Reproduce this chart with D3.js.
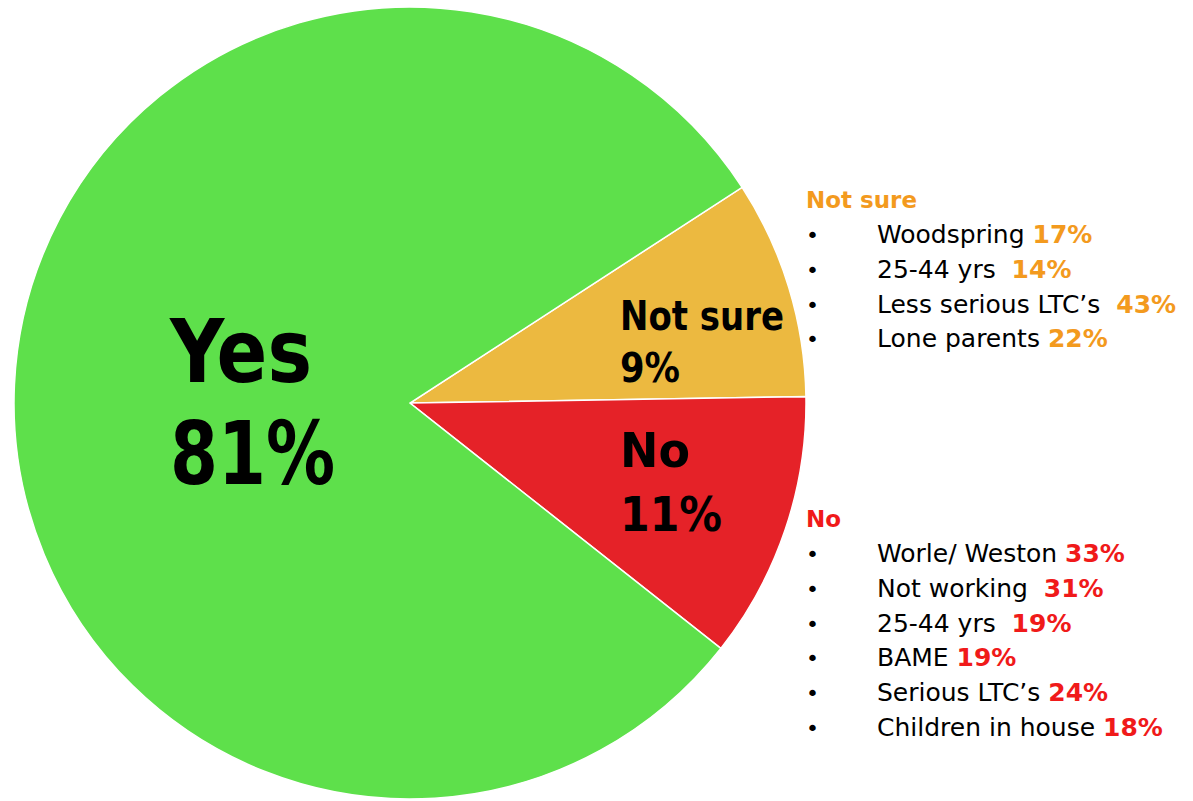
<!DOCTYPE html>
<html>
<head>
<meta charset="utf-8">
<script src="https://cdn.jsdelivr.net/npm/d3@7"></script>
<style>
  body { margin: 0; background: #fff; }
  text { font-family: 'DejaVu Sans', sans-serif; }
  .slice-label { font-family: 'DejaVu Sans Condensed', 'DejaVu Sans', sans-serif; }
</style>
</head>
<body>
<div id="chart"></div>
<script>
// slice data, clockwise from top-right
const answers = ['Not sure', 'No', 'Yes']
const shares = [9, 11, 81]
const sliceColors = ['#ecb940', '#e52228', '#5ee04b']

// breakdown lists on the right
const notSureItems = ['Woodspring', '25-44 yrs ', 'Less serious LTC\u2019s ', 'Lone parents']
const notSureValues = ['17%', '14%', '43%', '22%']
const noItems = ['Worle/ Weston', 'Not working ', '25-44 yrs ', 'BAME', 'Serious LTC\u2019s', 'Children in house']
const noValues = ['33%', '31%', '19%', '19%', '24%', '18%']

const width = 1193, height = 801
const cx = 410, cy = 403, radius = 396

const svg = d3.select('#chart')
  .append('svg')
  .attr('width', width)
  .attr('height', height)

const data = answers.map((a, i) => ({ answer: a, value: shares[i], color: sliceColors[i] }))

const startA = 57 * Math.PI / 180
const pie = d3.pie()
  .sort(null)
  .value((d) => d.value)
  .startAngle(startA)
  .endAngle(startA + 2 * Math.PI)

const arc = d3.arc().innerRadius(0).outerRadius(radius)

const g = svg.append('g').attr('transform', `translate(${cx},${cy})`)

g.selectAll('path')
  .data(pie(data))
  .join('path')
  .attr('d', arc)
  .attr('fill', (d) => d.data.color)
  .attr('stroke', '#fff')
  .attr('stroke-width', 1.5)

// in-slice labels (name line, percent line) with the widths they take in the picture
const labelPos = {
  'Yes': { x: 170, y: 382, size: 88, gap: 102, w1: 142, w2: 165 },
  'Not sure': { x: 620, y: 330, size: 40, gap: 52, w1: 164, w2: 60 },
  'No': { x: 620, y: 467, size: 48, gap: 64, w1: 70, w2: 102 },
}
data.forEach((d) => {
  const p = labelPos[d.answer]
  const lines = [[d.answer, p.y, p.w1], [d.value + '%', p.y + p.gap, p.w2]]
  lines.forEach(([txt, y, w]) => {
    svg.append('text')
      .attr('class', 'slice-label')
      .attr('x', p.x)
      .attr('y', y)
      .attr('font-size', p.size)
      .attr('font-weight', 'bold')
      .attr('fill', '#000')
      .attr('textLength', w)
      .attr('lengthAdjust', 'spacingAndGlyphs')
      .text(txt)
  })
})

const list = (heading, color, items, values, top) => {
  svg.append('text')
    .attr('x', 806)
    .attr('y', top)
    .attr('font-size', 23)
    .attr('font-weight', 'bold')
    .attr('fill', color)
    .text(heading)
  items.forEach((item, i) => {
    const y = top + 35 + i * 34.8
    svg.append('text')
      .attr('x', 806)
      .attr('y', y)
      .attr('font-size', 22)
      .attr('fill', '#000')
      .text('\u2022')
    const t = svg.append('text')
      .attr('x', 877)
      .attr('y', y)
      .attr('font-size', 25)
      .attr('fill', '#000')
      .style('white-space', 'pre')
    t.append('tspan').text(item + ' ')
    t.append('tspan').attr('font-weight', 'bold').attr('fill', color).text(values[i])
  })
}

list('Not sure', '#f39a1e', notSureItems, notSureValues, 208)
list('No', '#f01a1a', noItems, noValues, 527)
</script>
</body>
</html>
